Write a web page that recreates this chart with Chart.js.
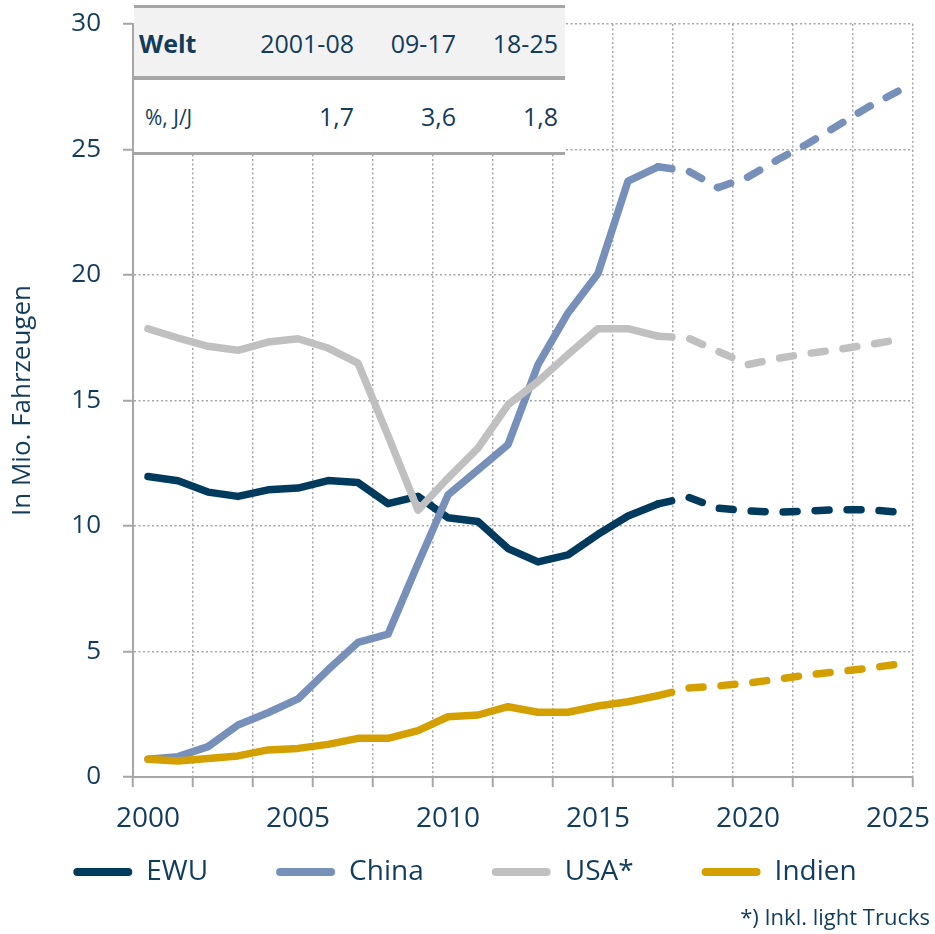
<!DOCTYPE html>
<html>
<head>
<meta charset="utf-8">
<script src="https://cdn.jsdelivr.net/npm/chart.js@4/dist/chart.umd.min.js"></script>
<style>
  body { margin: 0; background: #fff; }
  #wrap { position: relative; width: 935px; height: 934px; font-family: 'Open Sans', sans-serif; color: #123c5c; }
  #wrap canvas { position: absolute; left: 0; top: 0; }
  .tbl { position: absolute; pointer-events: none; }
  .txt { position: absolute; white-space: nowrap; font-size: 25px; line-height: 30px; }
</style>
</head>
<body>
<div id="wrap">
  <canvas id="c"></canvas>
  <div class="tbl" style="left:134px;top:5px;width:431px;height:3px;background:#a6a6a6"></div>
  <div class="tbl" style="left:134px;top:8px;width:431px;height:68px;background:#f2f2f2"></div>
  <div class="tbl" style="left:134px;top:76px;width:431px;height:4px;background:#a6a6a6"></div>
  <div class="tbl" style="left:134px;top:80px;width:431px;height:73px;background:#fff"></div>
  <div class="tbl" style="left:134px;top:152px;width:431px;height:3px;background:#a6a6a6"></div>
  <div class="txt" style="left:139px;top:28px;font-weight:bold">Welt</div>
  <div class="txt" style="right:581px;top:28px">2001-08</div>
  <div class="txt" style="right:479px;top:28px">09-17</div>
  <div class="txt" style="right:377px;top:28px">18-25</div>
  <div class="txt" style="left:145px;top:102px;font-size:21px">%, J/J</div>
  <div class="txt" style="right:581px;top:101px">1,7</div>
  <div class="txt" style="right:479px;top:101px">3,6</div>
  <div class="txt" style="right:377px;top:101px">1,8</div>
</div>
<script>
const years = ['2000','2001','2002','2003','2004','2005','2006','2007','2008','2009','2010','2011','2012',
  '2013','2014','2015','2016','2017','2018','2019','2020','2021','2022','2023','2024','2025'];
const ewu = [11.97, 11.8, 11.35, 11.18, 11.44, 11.51, 11.81, 11.73, 10.89, 11.18, 10.33, 10.18, 9.1,
  8.57, 8.85, 9.67, 10.4, 10.88, 11.15, 10.71, 10.6, 10.55, 10.6, 10.65, 10.65, 10.55];
const china = [0.71, 0.81, 1.21, 2.07, 2.56, 3.11, 4.27, 5.36, 5.69, 8.5, 11.24, 12.24, 13.24,
  16.43, 18.49, 20.06, 23.74, 24.31, 24.15, 23.48, 23.9, 24.6, 25.24, 25.96, 26.69, 27.32];
const usa = [17.86, 17.49, 17.16, 17.0, 17.33, 17.46, 17.09, 16.49, 13.6, 10.63, 11.91, 13.1, 14.83,
  15.76, 16.83, 17.86, 17.86, 17.56, 17.49, 16.96, 16.43, 16.68, 16.87, 17.03, 17.22, 17.42];
const indien = [0.71, 0.64, 0.74, 0.84, 1.08, 1.14, 1.3, 1.54, 1.54, 1.85, 2.4, 2.47, 2.8,
  2.58, 2.58, 2.83, 3.0, 3.24, 3.54, 3.63, 3.74, 3.9, 4.07, 4.2, 4.33, 4.5];
const lastActual = 17; // 2017, danach Prognose

const series = [
  { label: 'EWU', data: ewu, color: '#003a5c', order: 4 },
  { label: 'China', data: china, color: '#7690b9', order: 3 },
  { label: 'USA*', data: usa, color: '#c0c0c0', order: 2 },
  { label: 'Indien', data: indien, color: '#d4a000', order: 1 }
];

const textColor = '#123c5c';
const gridColor = '#a6a6a6';
const legendGap = 68;
Chart.defaults.font.family = "'Open Sans', sans-serif";
Chart.defaults.color = textColor;

function lineSet(s, dashed) {
  return {
    label: dashed ? '' : s.label,
    data: s.data.map((v, i) => (dashed ? i >= lastActual : i <= lastActual) ? v : null),
    borderColor: s.color,
    backgroundColor: s.color,
    borderWidth: 7.5,
    borderDash: dashed ? [14, 18] : [],
    borderCapStyle: 'round',
    borderJoinStyle: 'round',
    pointRadius: 0,
    tension: 0,
    order: s.order
  };
}

const datasets = [];
series.forEach(s => datasets.push(lineSet(s, false)));
series.forEach(s => datasets.push(lineSet(s, true)));

const everyOther = ctx => (ctx.index === undefined || ctx.index % 2 === 0) ? gridColor : 'rgba(0,0,0,0)';

// legend padding doubles as vertical offset, pull the box up under the year labels
const legendShift = {
  id: 'legendShift',
  afterLayout(chart) {
    chart.legend.top = chart.scales.x.bottom - 44;
  }
};

new Chart(document.getElementById('c'), {
  type: 'line',
  data: { labels: years, datasets: datasets },
  plugins: [legendShift],
  options: {
    responsive: true,
    maintainAspectRatio: false,
    animation: false,
    layout: { padding: { top: 24, right: 5, bottom: 2, left: 0 } },
    scales: {
      x: {
        type: 'category',
        offset: true,
        grid: {
          offset: true,
          color: everyOther,
          tickColor: everyOther,
          lineWidth: 1.5,
          tickBorderDash: [],
          tickWidth: 2,
          tickLength: 10
        },
        border: { color: gridColor, width: 2, dash: [2, 2.5] },
        ticks: {
          autoSkip: false,
          maxRotation: 0,
          padding: 15,
          font: { size: 28 },
          callback: function (val, i) { return i % 5 === 0 ? this.getLabelForValue(val) : ''; }
        },
        afterFit: s => { s.height = 57; s.paddingLeft = 0; s.paddingRight = 0; }
      },
      y: {
        min: 0,
        max: 30,
        ticks: { stepSize: 5, padding: 22, font: { size: 26 } },
        grid: {
          color: gridColor,
          lineWidth: 1.5,
          tickColor: gridColor,
          tickBorderDash: [],
          tickWidth: 2,
          tickLength: 10
        },
        border: { color: gridColor, width: 2, dash: [2, 2.5] },
        title: {
          display: true,
          text: 'In Mio. Fahrzeugen',
          font: { size: 26 },
          padding: { top: 7, bottom: 0 }
        },
        afterFit: s => { s.width = 133; s.paddingTop = 0; s.paddingBottom = 0; }
      },
      yRight: {
        position: 'right',
        display: true,
        grid: { display: false, drawTicks: false },
        border: { display: false },
        ticks: { display: false },
        afterFit: s => { s.width = 17; }
      }
    },
    plugins: {
      legend: {
        position: 'bottom',
        maxHeight: 59.6,
        labels: {
          font: { size: 28 },
          padding: legendGap,
          boxWidth: 59,
          boxHeight: 8,
          useBorderRadius: true,
          borderRadius: 4,
          generateLabels: chart => Chart.defaults.plugins.legend.labels.generateLabels(chart)
            .filter(it => it.text)
            .map(it => Object.assign(it, { lineWidth: 0 }))
            .sort((a, b) => a.datasetIndex - b.datasetIndex)
        }
      },
      subtitle: {
        display: true,
        position: 'bottom',
        align: 'end',
        text: '*) Inkl. light Trucks',
        font: { size: 22 },
        padding: { top: 12, bottom: 0 }
      },
      tooltip: { enabled: false }
    }
  }
});
</script>
</body>
</html>
